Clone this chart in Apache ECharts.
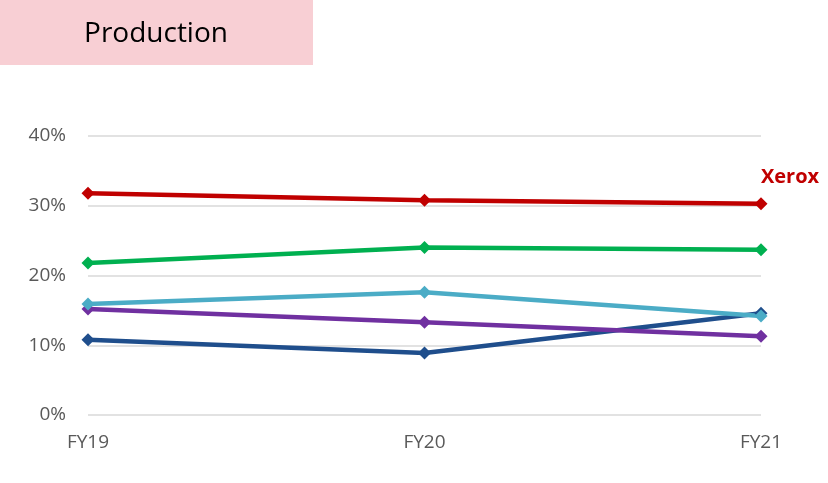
<!DOCTYPE html>
<html>
<head>
<meta charset="utf-8">
<script src="https://cdn.jsdelivr.net/npm/echarts@6/dist/echarts.min.js"></script>
<style>
  html, body { margin: 0; padding: 0; background: #fff; }
  #chart { width: 828px; height: 483px; }
</style>
</head>
<body>
<div id="chart"></div>
<script>
// Share of production segment by fiscal year
const categories = ['FY19', 'FY20', 'FY21'];
const xerox      = [31.8, 30.8, 30.3];
const greenSer   = [21.8, 24.0, 23.7];
const lightBlue  = [15.9, 17.6, 14.2];
const purpleSer  = [15.2, 13.3, 11.3];
const darkBlue   = [10.8, 8.9, 14.6];
const yTicks     = [0, 10, 20, 30, 40];

const chart = echarts.init(document.getElementById('chart'));

function line(name, data, color, extra) {
  return Object.assign({
    name: name,
    type: 'line',
    data: data,
    symbol: 'diamond',
    symbolSize: 13,
    lineStyle: { width: 4.5, color: color },
    itemStyle: { color: color },
    animation: false
  }, extra || {});
}

const xeroxData = xerox.map((v, i) => i === xerox.length - 1 ? {
  value: v,
  label: {
    show: true,
    formatter: 'Xerox',
    position: 'top',
    distance: 5,
    offset: [29, -5],
    color: '#C00000',
    fontWeight: 'bold',
    fontSize: 20,
    fontFamily: 'Open Sans'
  }
} : v);

chart.setOption({
  backgroundColor: '#fff',
  graphic: [
    { type: 'rect', shape: { x: 0, y: 0, width: 313, height: 65 }, style: { fill: '#F8CFD4' } },
    { type: 'text', x: 156, y: 34, style: { text: 'Production', fill: '#000', fontSize: 28, fontFamily: 'Open Sans', align: 'center', verticalAlign: 'middle' } }
  ],
  grid: { left: 88, right: 67, top: 136, bottom: 68 },
  xAxis: {
    type: 'category',
    data: categories,
    boundaryGap: false,
    axisLine: { show: false },
    axisTick: { show: false },
    axisLabel: { color: '#595959', fontSize: 19, fontFamily: 'Open Sans', margin: 18 }
  },
  yAxis: {
    type: 'value',
    min: yTicks[0],
    max: yTicks[yTicks.length - 1],
    interval: 10,
    axisLine: { show: false },
    axisTick: { show: false },
    splitLine: { lineStyle: { color: '#D9D9D9', width: 1.5 } },
    axisLabel: { color: '#595959', fontSize: 19, fontFamily: 'Open Sans', margin: 22, formatter: '{value}%' }
  },
  series: [
    line('Dark Blue', darkBlue, '#1F4E8C'),
    line('Purple', purpleSer, '#7030A0'),
    line('Light Blue', lightBlue, '#4BACC6'),
    line('Green', greenSer, '#00B050'),
    line('Xerox', xeroxData, '#C00000')
  ]
});
</script>
</body>
</html>
